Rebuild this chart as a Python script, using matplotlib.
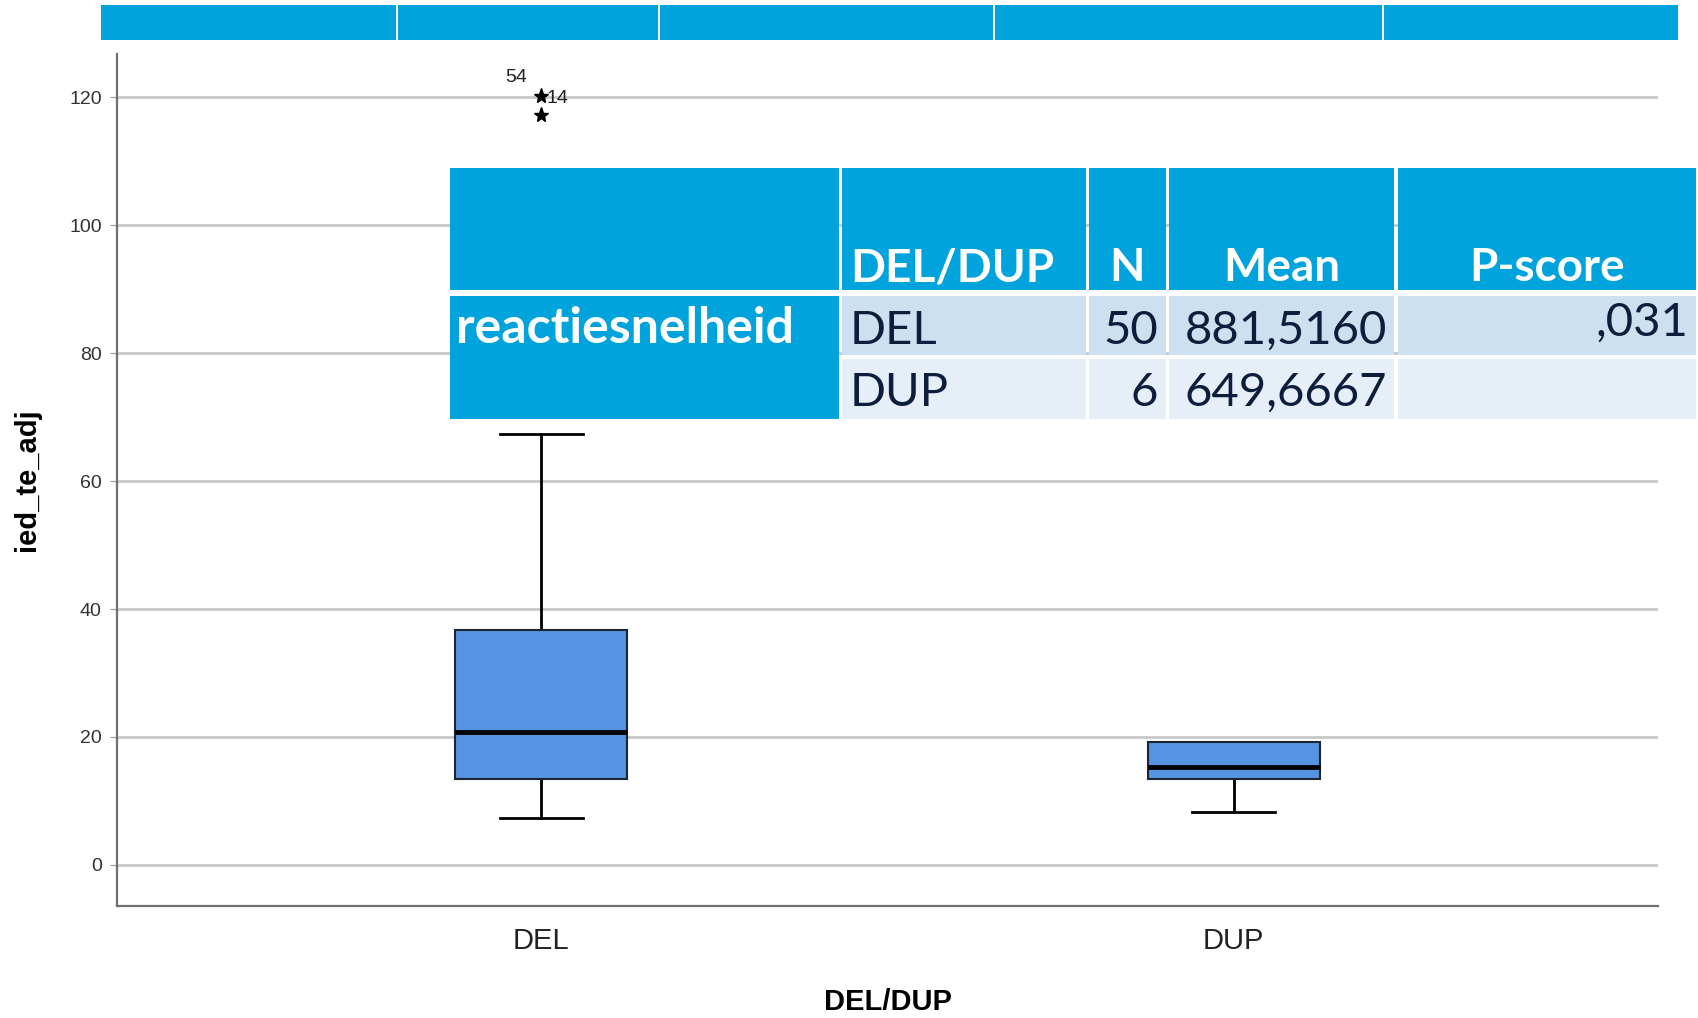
import matplotlib
matplotlib.use("Agg")
import matplotlib.pyplot as plt
from matplotlib.patches import Rectangle

# ---------------- data ----------------
categories = ["DEL", "DUP"]
q1 = [13.4, 13.4]
median = [20.7, 15.3]
q3 = [36.8, 19.2]
whisker_low = [7.3, 8.3]
whisker_high = [67.3, 19.2]
outliers = [[120.2, 117.3], []]
outlier_labels = [["54", "14"], []]
y_ticks = [0, 20, 40, 60, 80, 100, 120]

table_header = ["", "DEL/DUP", "N", "Mean", "P-score"]
table_variable = "reactiesnelheid"
table_groups = ["DEL", "DUP"]
table_n = ["50", "6"]
table_mean = ["881,5160", "649,6667"]
table_p = [",031", ""]

# ---------------- figure ----------------
W, H = 1699, 1018
fig = plt.figure(figsize=(W / 100, H / 100), dpi=100)
fig.patch.set_facecolor("white")

ax = fig.add_axes([117 / W, 1 - 906 / H, (1658 - 117) / W, (906 - 54) / H])
stats = []
for i, c in enumerate(categories):
    stats.append(dict(label=c, q1=q1[i], med=median[i], q3=q3[i],
                      whislo=whisker_low[i], whishi=whisker_high[i],
                      fliers=outliers[i]))
pos = list(range(len(categories)))
res = ax.bxp(stats, positions=pos, widths=0.248, patch_artist=True,
             showfliers=True,
             boxprops=dict(facecolor="#5594E2", edgecolor="#1c2633", linewidth=1.5),
             medianprops=dict(color="black", linewidth=3.5),
             whiskerprops=dict(color="black", linewidth=2),
             capprops=dict(color="black", linewidth=2),
             capwidths=0.12,
             flierprops=dict(marker="*", markersize=11, markerfacecolor="black",
                             markeredgecolor="black", linestyle="none"),
             zorder=3)
for cap in res["caps"]:
    cap.set_zorder(2.5)
for w in res["whiskers"]:
    w.set_zorder(2.5)

# outlier labels
for i, labs in enumerate(outlier_labels):
    if labs:
        top = max(outliers[i])
        ax.annotate(labs[0], (pos[i], top), xytext=(-26, 10), textcoords="offset points",
                    fontsize=14, family="Liberation Sans", color="#222222")
        ax.annotate(labs[1], (pos[i], top), xytext=(4, -5), textcoords="offset points",
                    fontsize=14, family="Liberation Sans", color="#222222")

ax.set_xlim(-0.6125, 1.6125)
ax.set_ylim(-6.44, 126.8)
ax.set_yticks(y_ticks)
ax.set_yticklabels([str(v) for v in y_ticks], fontsize=14, family="Liberation Sans", color="#333333")
ax.set_xticks(pos)
ax.set_xticklabels(categories, fontsize=21, family="Liberation Sans", color="#222222")
ax.tick_params(axis="x", length=0, pad=15)
ax.tick_params(axis="y", length=5, color="#999999", pad=6)
ax.yaxis.grid(True, color="#c8c8c8", linewidth=2)
ax.set_axisbelow(True)
for s in ["top", "right"]:
    ax.spines[s].set_visible(False)
for s in ["left", "bottom"]:
    ax.spines[s].set_color("#707070")
    ax.spines[s].set_linewidth(1.6)
ax.set_ylabel("ied_te_adj", fontsize=21, fontweight="bold", family="Liberation Sans", labelpad=20)
ax.set_xlabel("DEL/DUP", fontsize=21, fontweight="bold", family="Liberation Sans", labelpad=24)

# ---------------- overlay (top bar + table) ----------------
ov = fig.add_axes([0, 0, 1, 1], zorder=10)
ov.set_xlim(0, W)
ov.set_ylim(H, 0)
ov.axis("off")
ov.patch.set_alpha(0)

BLUE = "#00A3DB"
ROW1 = "#CCE0F0"
ROW2 = "#E6EEF8"
NAVY = "#0C1E3C"

# top bar
bar_edges = [100, 397, 659, 994, 1383, 1679]
for a, b in zip(bar_edges[:-1], bar_edges[1:]):
    ov.add_patch(Rectangle((a + 1, 5), b - a - 2, 35, facecolor=BLUE, edgecolor="none"))

# table
cols = [(450, 839), (842, 1086), (1089, 1166), (1169, 1394), (1398, 1696)]
hdr = (168, 290)
r1 = (296, 355)
r2 = (359, 419)
for (a, b) in cols:
    ov.add_patch(Rectangle((a, hdr[0]), b - a, hdr[1] - hdr[0], facecolor=BLUE, edgecolor="none"))
ov.add_patch(Rectangle((450, hdr[1]), 1246, r1[0] - hdr[1], facecolor="white", edgecolor="none"))
ov.add_patch(Rectangle((cols[0][0], r1[0]), cols[0][1] - cols[0][0], r2[1] - r1[0],
                       facecolor=BLUE, edgecolor="none"))
for (a, b) in cols[1:]:
    ov.add_patch(Rectangle((a, r1[0]), b - a, r1[1] - r1[0], facecolor=ROW1, edgecolor="none"))
    ov.add_patch(Rectangle((a, r2[0]), b - a, r2[1] - r2[0], facecolor=ROW2, edgecolor="none"))

TF = "Lato"
fs_h = 33
fs_v = 34
hy = 281
ov.text(850, hy, table_header[1], color="white", fontsize=fs_h, fontweight="bold", family=TF, ha="left", va="baseline")
for j in (2, 3, 4):
    ov.text((cols[j][0] + cols[j][1]) / 2, hy, table_header[j], color="white", fontsize=fs_h,
            fontweight="bold", family=TF, ha="center", va="baseline")
ov.text(456, 343, table_variable, color="white", fontsize=36, fontweight="bold", family=TF,
        ha="left", va="baseline")
rows_y = [344, 406]
for k in range(2):
    y = rows_y[k]
    ov.text(850, y, table_groups[k], color=NAVY, fontsize=fs_v, family=TF, ha="left", va="baseline")
    ov.text(1158, y, table_n[k], color=NAVY, fontsize=fs_v, family=TF, ha="right", va="baseline")
    ov.text(1387, y, table_mean[k], color=NAVY, fontsize=fs_v, family=TF, ha="right", va="baseline")
    if table_p[k]:
        ov.text(1688, y - 8, table_p[k], color=NAVY, fontsize=fs_v, family=TF, ha="right", va="baseline")

fig.savefig("out.png", dpi=100, facecolor="white")
